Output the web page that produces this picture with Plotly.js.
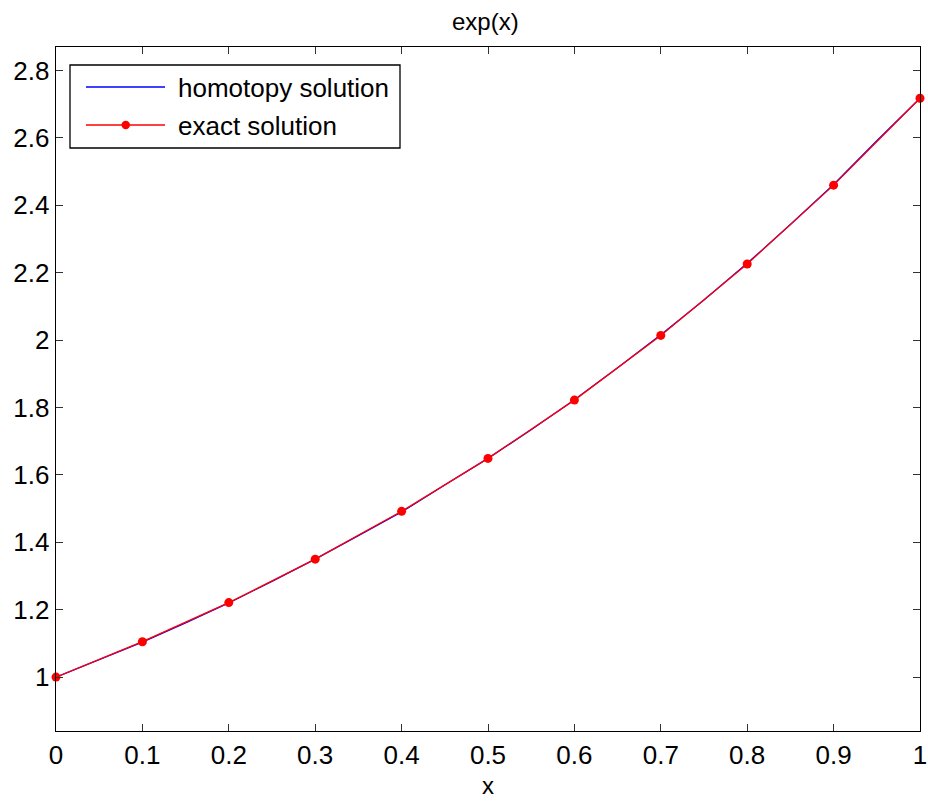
<!DOCTYPE html>
<html>
<head>
<meta charset="utf-8">
<script src="https://cdn.plot.ly/plotly-3.0.1.min.js"></script>
<style>html,body{margin:0;padding:0;background:#fff;}#chart{width:928px;height:801px;}</style>
</head>
<body>
<div id="chart"></div>
<script>
// Exact solution (red dots)
const exactX = [0, 0.1, 0.2, 0.3, 0.4, 0.5, 0.6, 0.7, 0.8, 0.9, 1.0];
const exactY = [1.000, 1.105, 1.221, 1.350, 1.492, 1.649, 1.822, 2.014, 2.226, 2.460, 2.718];
// Homotopy solution (blue line)
const homX = [0, 0.05, 0.1, 0.15, 0.2, 0.25, 0.3, 0.35, 0.4, 0.45, 0.5, 0.55, 0.6, 0.65, 0.7, 0.75, 0.8, 0.85, 0.9, 0.95, 1.0];
const homY = [1.000, 1.051, 1.104, 1.161, 1.220, 1.284, 1.350, 1.420, 1.490, 1.570, 1.649, 1.734, 1.823, 1.918, 2.016, 2.119, 2.228, 2.343, 2.462, 2.592, 2.718];
const legendLabels = ['homotopy solution', 'exact solution'];
const titleText = 'exp(x)';
const xLabel = 'x';
const xTicks = [0, 0.1, 0.2, 0.3, 0.4, 0.5, 0.6, 0.7, 0.8, 0.9, 1];
const xTickText = ['0', '0.1', '0.2', '0.3', '0.4', '0.5', '0.6', '0.7', '0.8', '0.9', '1'];
const yTicks = [1, 1.2, 1.4, 1.6, 1.8, 2, 2.2, 2.4, 2.6, 2.8];
const yTickText = ['1', '1.2', '1.4', '1.6', '1.8', '2', '2.2', '2.4', '2.6', '2.8'];

const FONT = 'Liberation Sans, Arial, sans-serif';
const BLUE = '#0000ff';
const RED = '#ff0000';

const traces = [
  {x: homX, y: homY, mode: 'lines', line: {color: BLUE, width: 1.3}, showlegend: false, hoverinfo: 'skip'},
  {x: exactX, y: exactY, mode: 'lines+markers', line: {color: RED, width: 1.3},
   marker: {color: RED, size: 9}, showlegend: false, cliponaxis: false}
];

// custom legend in paper coords
const R = 920;
const W = R - 56, H = 684, L = 56, B = 731;
const px = v => (v - L) / W;
const py = v => (B - v) / H;

const layout = {
  width: 928, height: 801,
  margin: {l: 56, r: 928 - R, t: 47, b: 70},
  paper_bgcolor: '#fff', plot_bgcolor: '#fff',
  font: {family: FONT, color: '#000', size: 26},
  title: {text: titleText, font: {family: FONT, size: 24, color: '#000'}, x: 0.523, xanchor: 'center', y: 1 - 22/801, yanchor: 'middle'},
  xaxis: {
    range: [0, 1], tickvals: xTicks, ticktext: xTickText, ticks: 'inside', ticklen: 7, tickwidth: 1, tickcolor: '#333',
    showline: true, linecolor: '#000', linewidth: 1.3, mirror: 'ticks', showgrid: false, zeroline: false,
    ticklabeloverflow: 'allow', automargin: false,
    tickfont: {family: FONT, size: 26, color: '#000'},
    title: {text: xLabel, font: {family: FONT, size: 24, color: '#000'}, standoff: 8}
  },
  yaxis: {
    range: [0.84, 2.87], tickvals: yTicks, ticktext: yTickText, ticks: 'inside', ticklen: 7, tickwidth: 1, tickcolor: '#333',
    showline: true, linecolor: '#000', linewidth: 1.3, mirror: 'ticks', showgrid: false, zeroline: false,
    tickfont: {family: FONT, size: 26, color: '#000'}
  },
  shapes: [
    {type: 'rect', xref: 'paper', yref: 'paper', x0: px(70), x1: px(400), y0: py(148), y1: py(65),
     line: {color: '#000', width: 1.3}, fillcolor: '#fff', layer: 'above'},
    {type: 'line', xref: 'paper', yref: 'paper', x0: px(86), x1: px(165), y0: py(87), y1: py(87),
     line: {color: BLUE, width: 1.3}, layer: 'above'},
    {type: 'line', xref: 'paper', yref: 'paper', x0: px(86), x1: px(165), y0: py(125), y1: py(125),
     line: {color: RED, width: 1.3}, layer: 'above'},
    {type: 'circle', xref: 'paper', yref: 'paper', x0: px(121.5), x1: px(130), y0: py(129.2), y1: py(120.8),
     line: {color: RED, width: 0}, fillcolor: RED, layer: 'above'}
  ],
  annotations: [
    {xref: 'paper', yref: 'paper', x: px(176), y: py(88), text: legendLabels[0], showarrow: false,
     xanchor: 'left', yanchor: 'middle', font: {family: FONT, size: 26, color: '#000'}},
    {xref: 'paper', yref: 'paper', x: px(176), y: py(126), text: legendLabels[1], showarrow: false,
     xanchor: 'left', yanchor: 'middle', font: {family: FONT, size: 26, color: '#000'}}
  ]
};

Plotly.newPlot('chart', traces, layout, {displayModeBar: false, staticPlot: true});
</script>
</body>
</html>
